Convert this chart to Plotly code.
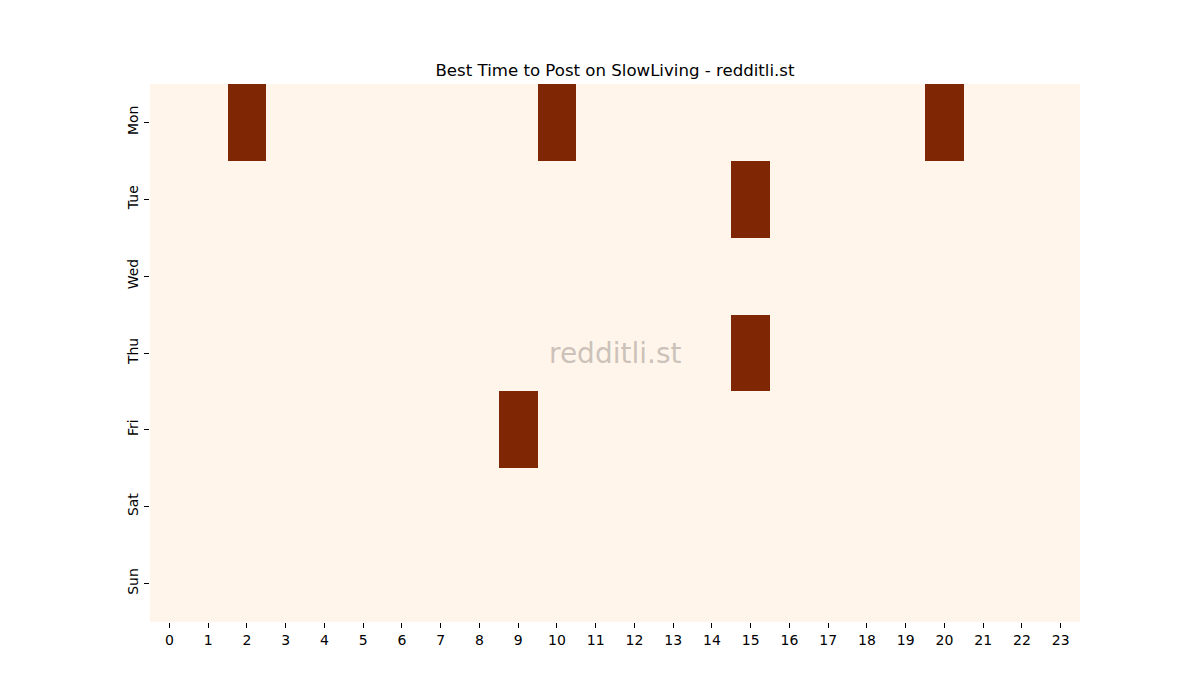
import plotly.graph_objects as go

hours = list(range(24))
days = ['Mon', 'Tue', 'Wed', 'Thu', 'Fri', 'Sat', 'Sun']

mon = [0, 0, 1, 0, 0, 0, 0, 0, 0, 0, 1, 0, 0, 0, 0, 0, 0, 0, 0, 0, 1, 0, 0, 0]
tue = [0, 0, 0, 0, 0, 0, 0, 0, 0, 0, 0, 0, 0, 0, 0, 1, 0, 0, 0, 0, 0, 0, 0, 0]
wed = [0] * 24
thu = [0, 0, 0, 0, 0, 0, 0, 0, 0, 0, 0, 0, 0, 0, 0, 1, 0, 0, 0, 0, 0, 0, 0, 0]
fri = [0, 0, 0, 0, 0, 0, 0, 0, 0, 1, 0, 0, 0, 0, 0, 0, 0, 0, 0, 0, 0, 0, 0, 0]
sat = [0] * 24
sun = [0] * 24

z = [mon, tue, wed, thu, fri, sat, sun]

fig = go.Figure(go.Heatmap(
    z=z, x=hours, y=days,
    zmin=0, zmax=1,
    colorscale=[[0, '#fff5eb'], [1, '#7f2704']],
    showscale=False,
    xgap=0, ygap=0,
))

# page body has an 8px margin, so shift everything up/left by 8
fig.update_layout(
    width=1200, height=700,
    paper_bgcolor='white', plot_bgcolor='white',
    margin=dict(l=142, r=128, t=76, b=86),
    font=dict(family='DejaVu Sans', size=14, color='black'),
    title=dict(text='Best Time to Post on SlowLiving - redditli.st',
               x=(615 - 8) / 1200, xanchor='center', y=1 - 62 / 700, yanchor='middle',
               font=dict(size=16.6)),
    xaxis=dict(tickmode='array', tickvals=hours, ticktext=[str(h) for h in hours],
               ticks='outside', ticklen=5, tickcolor='black',
               showgrid=False, zeroline=False, showline=False),
    yaxis=dict(autorange='reversed', ticks='outside', ticklen=5, tickcolor='black',
               tickangle=-90, showgrid=False, zeroline=False, showline=False),
    annotations=[dict(text='redditli.st', x=0.5, y=0.5, xref='paper', yref='paper',
                      showarrow=False,
                      font=dict(size=28, color='rgba(120,110,105,0.4)'))],
)

fig.write_html("out.html")
